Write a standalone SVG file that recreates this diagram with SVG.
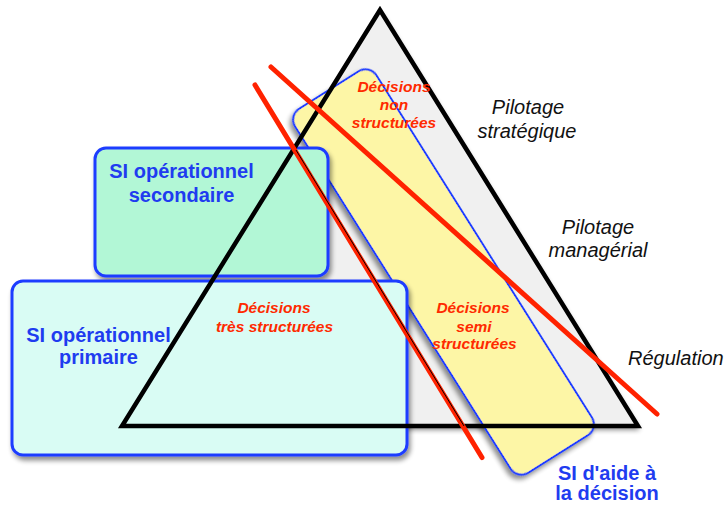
<svg xmlns="http://www.w3.org/2000/svg" width="727" height="505" viewBox="0 0 727 505">
<defs>
<filter id="sh" x="-10%" y="-10%" width="130%" height="130%">
<feGaussianBlur in="SourceAlpha" stdDeviation="2.5"/>
<feOffset dx="2" dy="4" result="b"/>
<feComponentTransfer><feFuncA type="linear" slope="0.45"/></feComponentTransfer>
<feMerge><feMergeNode/><feMergeNode in="SourceGraphic"/></feMerge>
</filter>
<filter id="lsh" x="-5%" y="-200%" width="110%" height="600%">
<feGaussianBlur in="SourceAlpha" stdDeviation="2"/>
<feOffset dx="1" dy="4"/>
<feComponentTransfer><feFuncA type="linear" slope="0.3"/></feComponentTransfer>
<feMerge><feMergeNode/><feMergeNode in="SourceGraphic"/></feMerge>
</filter>
<style>
.box{stroke:#1f3cff;stroke-width:3}
.lvl{font-family:"Liberation Sans",Arial,sans-serif;font-style:italic;font-size:20px;fill:#111;text-anchor:middle}
.dec{font-family:"Liberation Sans",Arial,sans-serif;font-style:italic;font-weight:bold;font-size:15.5px;fill:#ff2a00;text-anchor:middle}
.si{font-family:"Liberation Sans",Arial,sans-serif;font-weight:bold;font-size:20px;fill:#1f3cf0;text-anchor:middle}
.hl{stroke:#444;stroke-width:1.5}
.red{stroke:#ff2200;stroke-width:5;stroke-linecap:round}
</style>
</defs>
<g id="pyramid-fill">
<polygon points="380,10 122,426 638,426" fill="#f0f0f0" filter="url(#sh)"/>
</g>
<g id="si-aide-decision">
<rect x="-215" y="-48" width="430" height="96" rx="13" transform="translate(443.5,272) rotate(57.8)" fill="#fdf6a6" stroke="#1f3cff" stroke-width="2" filter="url(#sh)"/>
</g>
<g id="si-op-secondaire">
<rect x="95" y="148" width="233" height="128" rx="11" fill="#b2f7d6" class="box" filter="url(#sh)"/>
</g>
<g id="si-op-primaire">
<rect x="12" y="281" width="395" height="174" rx="11" fill="#d9fcf4" class="box" filter="url(#sh)"/>
</g>
<g id="pyramid">
<polygon points="380,10 122,426 638,426" fill="none" stroke="#000" stroke-width="4.5" stroke-linejoin="miter"/>
</g>
<g id="connectors">
<line x1="37" y1="179" x2="675" y2="179" class="hl" filter="url(#lsh)"/>
<line x1="37" y1="321.7" x2="677" y2="321.7" class="hl" filter="url(#lsh)"/>
<line x1="271" y1="67" x2="657" y2="414" class="red"/>
<line x1="255" y1="85" x2="482" y2="457.5" class="red"/>
<line x1="296" y1="150" x2="464" y2="426" stroke="#000" stroke-width="1"/>
</g>
<g id="labels">
<text class="dec" x="394" y="91.5">Décisions</text>
<text class="dec" x="394" y="109.5">non</text>
<text class="dec" x="394" y="127.5">structurées</text>
<text class="dec" x="274" y="313.3">Décisions</text>
<text class="dec" x="274.5" y="331.5">très structurées</text>
<text class="dec" x="473" y="313.3">Décisions</text>
<text class="dec" x="474" y="331.5">semi</text>
<text class="dec" x="474.5" y="349.3">structurées</text>
<text class="lvl" x="528" y="114">Pilotage</text>
<text class="lvl" x="527" y="137.5">stratégique</text>
<text class="lvl" x="598" y="234">Pilotage</text>
<text class="lvl" x="598" y="256.5">managérial</text>
<text class="lvl" x="628" y="365" style="text-anchor:start">Régulation</text>
<text class="si" x="181.5" y="177.5">SI opérationnel</text>
<text class="si" x="181.5" y="201.5">secondaire</text>
<text class="si" x="98.5" y="341.5">SI opérationnel</text>
<text class="si" x="98.5" y="364">primaire</text>
<text class="si" x="607" y="480">SI d'aide à</text>
<text class="si" x="607" y="500">la décision</text>
</g>
</svg>
